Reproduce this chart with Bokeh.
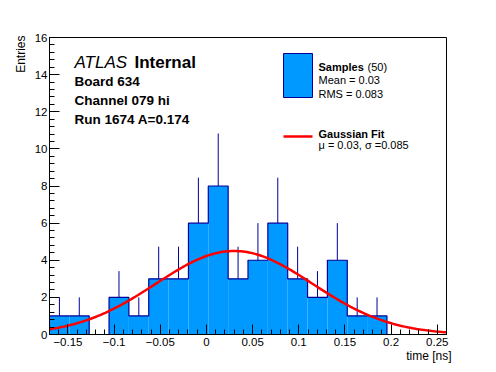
import math
import numpy as np
from bokeh.plotting import figure
from bokeh.models import Label, FixedTicker, Title
from bokeh.embed import file_html
from bokeh.resources import INLINE

# ---- data ----
x_min, x_max, n_bins = -0.17, 0.26, 20
counts = [1, 1, 0, 2, 1, 3, 3, 6, 8, 3, 4, 6, 3, 2, 4, 1, 1, 0, 0, 0]
fit_mu, fit_sigma, fit_amp = 0.03, 0.085, 4.5
x_ticks = [-0.15, -0.1, -0.05, 0.0, 0.05, 0.1, 0.15, 0.2, 0.25]
x_tick_labels = ["\u22120.15", "\u22120.1", "\u22120.05", "0", "0.05", "0.1", "0.15", "0.2", "0.25"]
y_ticks = [0, 2, 4, 6, 8, 10, 12, 14, 16]
y_tick_labels = ["0", "2", "4", "6", "8", "10", "12", "14", "16"]
n_samples, mean_val, rms_val = 50, 0.03, 0.083

FONT = "Liberation Sans"
FILL = "#0099ff"
EDGE = "#000099"

edges = np.linspace(x_min, x_max, n_bins + 1)
centers = 0.5 * (edges[:-1] + edges[1:])
cnt = np.array(counts, dtype=float)

p = figure(width=496, height=372, x_range=(x_min, x_max), y_range=(0, 16),
           output_backend="svg", toolbar_location=None,
           min_border_left=49, min_border_right=50, min_border_top=37, min_border_bottom=38)
p.xgrid.visible = False
p.ygrid.visible = False
p.outline_line_color = "black"
p.outline_line_width = 1
p.background_fill_color = "white"
p.border_fill_color = "white"

# histogram fill
p.quad(left=edges[:-1], right=edges[1:], bottom=0, top=cnt, fill_color=FILL, line_color=None)
# error bars (upper part visible)
m = cnt > 0
p.segment(x0=centers[m], y0=cnt[m], x1=centers[m], y1=cnt[m] + np.sqrt(cnt[m]), line_color=EDGE, line_width=1)
# outline
p.step(x=edges, y=np.append(cnt, cnt[-1]), mode="after", line_color=EDGE, line_width=1.2)

# gaussian fit
xf = np.linspace(x_min, x_max, 200)
yf = fit_amp * np.exp(-0.5 * ((xf - fit_mu) / fit_sigma) ** 2)
p.line(xf, yf, line_color="red", line_width=2.5)

# axes
for ax, ticks, labels in ((p.xaxis[0], x_ticks, x_tick_labels), (p.yaxis[0], y_ticks, y_tick_labels)):
    ax.major_label_overrides = {t: l for t, l in zip(ticks, labels)}
    ax.major_tick_in = 10
    ax.major_tick_out = 0
    ax.minor_tick_in = 5
    ax.minor_tick_out = 0
    ax.major_label_text_font = FONT
    ax.major_label_text_font_size = "11.5px"
    ax.major_label_text_color = "black"
    ax.axis_line_color = "black"
    ax.major_tick_line_color = "black"
    ax.minor_tick_line_color = "black"
p.xaxis[0].ticker = FixedTicker(ticks=x_ticks, minor_ticks=[round(x_min + 0.01 * i, 2) for i in range(44)])
p.yaxis[0].ticker = FixedTicker(ticks=y_ticks, minor_ticks=[0.4 * i for i in range(41)])
p.xaxis[0].major_label_standoff = 3
p.yaxis[0].major_label_standoff = 2

# axis titles as side titles
p.add_layout(Title(text="time [ns]", align="right", text_font=FONT, text_font_size="12px",
                   text_font_style="normal", text_color="black", standoff=-3, offset=-5), "below")
p.add_layout(Title(text="Entries", align="right", text_font=FONT, text_font_size="12px",
                   text_font_style="normal", text_color="black", standoff=8, offset=-2), "left")

sx = (x_max - x_min) / 397.0   # data per px
sy = 16 / 297.0

def X(px):
    return x_min + (px - 49) * sx

def Y(py):
    return (334 - py) * sy

def lab(text, px, py, size, style="normal", align="left", angle=0, color="black"):
    p.add_layout(Label(x=X(px), y=Y(py), text=text, text_font=FONT, text_font_size=size,
                       text_font_style=style, text_align=align, text_baseline="alphabetic",
                       angle=angle, text_color=color))

# ATLAS block
lab("ATLAS", 74, 62, "17px", style="italic")
lab("Internal", 134, 62, "17px", style="bold")
lab("Board 634", 74, 81, "13.5px", style="bold")
lab("Channel 079 hi", 74, 100, "13.5px", style="bold")
lab("Run 1674 A=0.174", 74, 119, "13.5px", style="bold")

# legend
p.quad(left=X(283), right=X(312), bottom=Y(97), top=Y(53), fill_color=FILL, line_color=EDGE, line_width=1)
lab("Samples", 318, 66, "11px", style="bold")
lab("(%d)" % n_samples, 367, 66, "11px")
lab("Mean = %s" % mean_val, 318, 79, "11px")
lab("RMS = %s" % rms_val, 318, 93, "11px")
p.line([X(283), X(312)], [Y(136), Y(136)], line_color="red", line_width=2.5)
lab("Gaussian Fit", 318, 133, "11px", style="bold")
lab("\u03bc = %s, \u03c3 =%s" % (fit_mu, fit_sigma), 318, 144, "11px")

open("out.html", "w").write(file_html(p, INLINE))
